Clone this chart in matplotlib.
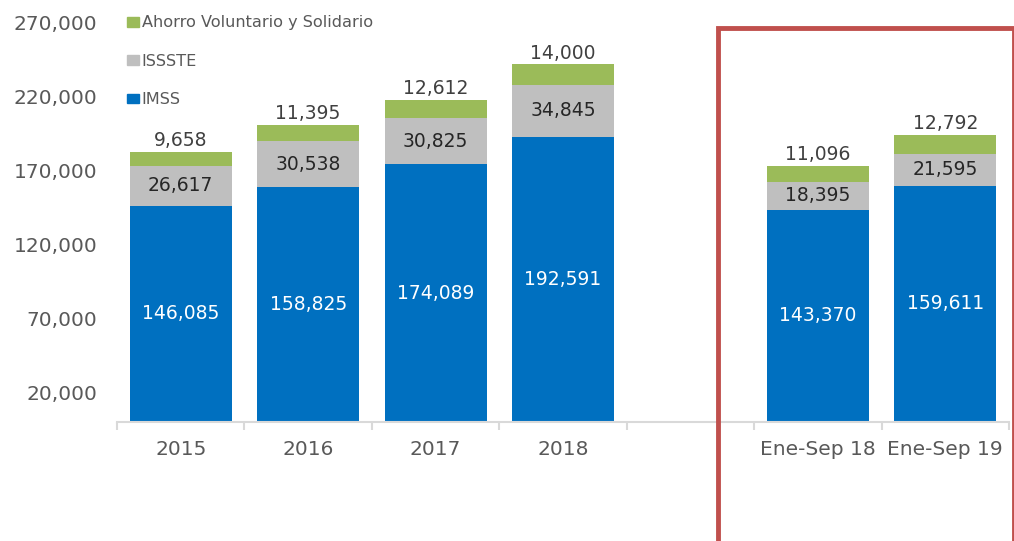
import numpy as np
import matplotlib
matplotlib.use("Agg")
import matplotlib.pyplot as plt
from matplotlib.patches import Patch, Rectangle

categories = ['2015', '2016', '2017', '2018', '', 'Ene-Sep 18', 'Ene-Sep 19']
imss = [146085, 158825, 174089, 192591, np.nan, 143370, 159611]
issste = [26617, 30538, 30825, 34845, np.nan, 18395, 21595]
ahorro = [9658, 11395, 12612, 14000, np.nan, 11096, 12792]
yticks = [20000, 70000, 120000, 170000, 220000, 270000]

c_imss = '#0070C0'
c_issste = '#BFBFBF'
c_ahorro = '#9BBB59'
c_text = '#595959'

plt.rcParams['font.family'] = ['DejaVu Sans']

fig = plt.figure(figsize=(10.14, 5.41), dpi=100)
ax = fig.add_axes([117 / 1014, 119 / 541, 892 / 1014, 400 / 541])

x = np.arange(len(categories))
imss_a = np.array(imss, dtype=float)
issste_a = np.array(issste, dtype=float)
ahorro_a = np.array(ahorro, dtype=float)

ax.bar(x, imss_a, width=0.8, color=c_imss)
ax.bar(x, issste_a, width=0.8, bottom=imss_a, color=c_issste)
ax.bar(x, ahorro_a, width=0.8, bottom=imss_a + issste_a, color=c_ahorro)

# etiquetas de cada segmento
for i in range(len(categories)):
    if np.isnan(imss_a[i]):
        continue
    ax.text(x[i], imss_a[i] / 2, f'{int(imss_a[i]):,}', ha='center', va='center',
            color='white', fontsize=13.5)
    ax.text(x[i], imss_a[i] + issste_a[i] / 2, f'{int(issste_a[i]):,}', ha='center',
            va='center', color='#262626', fontsize=13.5)
    ax.text(x[i], imss_a[i] + issste_a[i] + ahorro_a[i] + 1200, f'{int(ahorro_a[i]):,}',
            ha='center', va='bottom', color='#404040', fontsize=13.5)

ax.set_xlim(-0.5, len(categories) - 0.5)
ax.set_ylim(0, 270000)
ax.set_yticks(yticks)
ax.set_yticklabels([f'{v:,}' for v in yticks])
ax.set_xticks(x)
ax.set_xticklabels(categories)
ax.set_xticks(np.arange(len(categories) + 1) - 0.5, minor=True)
ax.tick_params(axis='x', which='major', length=0, pad=13, labelsize=14.5, labelcolor=c_text)
ax.tick_params(axis='x', which='minor', length=6, color='#D9D9D9', width=1.5)
ax.tick_params(axis='y', length=0, pad=14, labelsize=14.5, labelcolor=c_text)

for s in ['top', 'right', 'left']:
    ax.spines[s].set_visible(False)
ax.spines['bottom'].set_color('#D9D9D9')
ax.spines['bottom'].set_linewidth(1.5)

handles = [Patch(color=c_ahorro, label='Ahorro Voluntario y Solidario'),
           Patch(color=c_issste, label='ISSSTE'),
           Patch(color=c_imss, label='IMSS')]
fig.legend(handles=handles, loc='upper left', bbox_to_anchor=(112 / 1014, 1 - 1 / 541),
           frameon=False, fontsize=11.6, handlelength=0.75, handleheight=0.55,
           handletextpad=0.2, labelspacing=1.45, labelcolor=c_text)

# recuadro rojo de resaltado
fig.add_artist(Rectangle((718 / 1014, -0.05), 296 / 1014, 1.05 - 28 / 541,
                         transform=fig.transFigure, fill=False,
                         edgecolor='#C0504D', linewidth=3.5))

fig.savefig('out.png', dpi=100)
